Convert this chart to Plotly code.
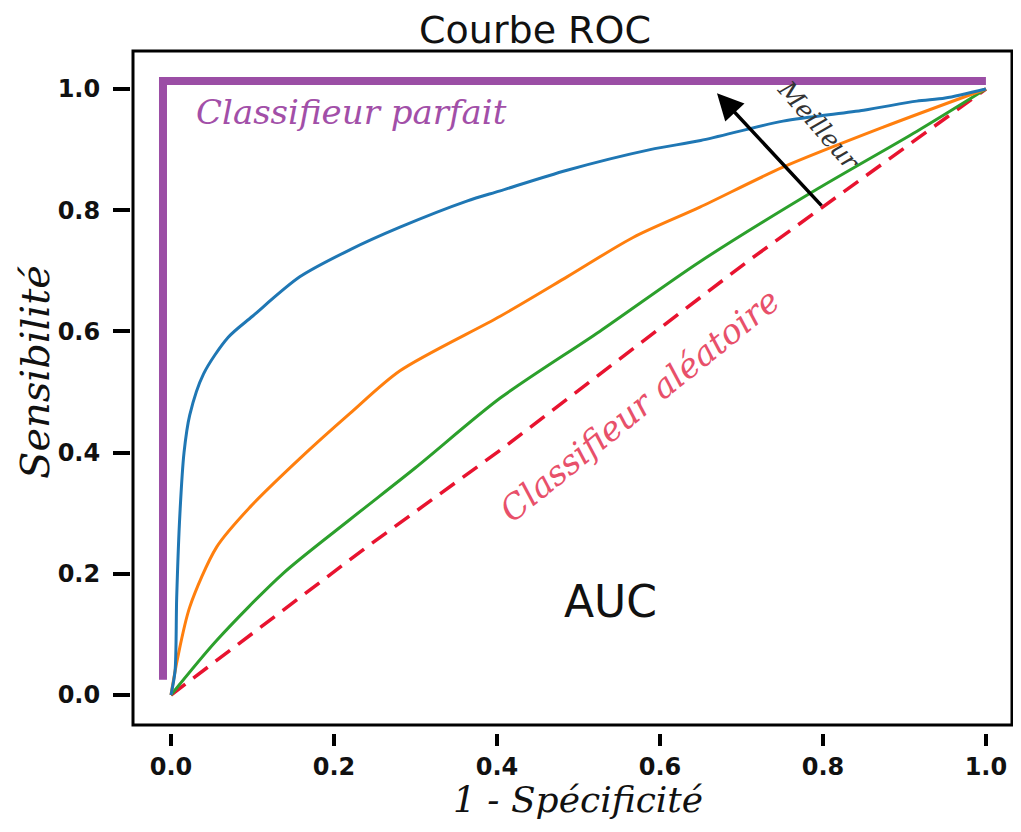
import plotly.graph_objects as go

# taux de faux positifs / vrais positifs
fpr_a = [0, 0.005, 0.007, 0.011, 0.016, 0.023, 0.04, 0.07, 0.1, 0.158, 0.22, 0.281, 0.363, 0.404, 0.486, 0.588, 0.65, 0.751, 0.85, 0.915, 0.95, 1.0]
tpr_a = [0, 0.04, 0.16, 0.30, 0.40, 0.462, 0.53, 0.59, 0.625, 0.69, 0.735, 0.772, 0.815, 0.832, 0.866, 0.90, 0.915, 0.947, 0.965, 0.98, 0.985, 1.0]

fpr_b = [0, 0.008, 0.023, 0.056, 0.097, 0.158, 0.22, 0.281, 0.404, 0.486, 0.567, 0.649, 0.751, 0.874, 1.0]
tpr_b = [0, 0.06, 0.145, 0.244, 0.31, 0.39, 0.465, 0.535, 0.625, 0.69, 0.755, 0.805, 0.871, 0.937, 1.0]

fpr_c = [0, 0.056, 0.137, 0.22, 0.3, 0.404, 0.526, 0.649, 0.793, 0.915, 1.0]
tpr_c = [0, 0.09, 0.20, 0.29, 0.375, 0.49, 0.60, 0.715, 0.835, 0.93, 1.0]

fpr_rand = [0, 0.24, 0.404, 0.71, 1.0]
tpr_rand = [0, 0.244, 0.404, 0.718, 1.0]

fpr_perfect = [-0.0098, -0.0098, 1.0]
tpr_perfect = [0.025, 1.013, 1.013]

ticks = [0.0, 0.2, 0.4, 0.6, 0.8, 1.0]
tick_text = ["0.0", "0.2", "0.4", "0.6", "0.8", "1.0"]

hand = "DejaVu Serif"
plain = "DejaVu Sans"

fig = go.Figure()
fig.add_trace(go.Scatter(x=fpr_perfect, y=tpr_perfect, mode="lines",
                         line=dict(color="#9b4ea5", width=8)))
fig.add_trace(go.Scatter(x=fpr_rand, y=tpr_rand, mode="lines",
                         line=dict(color="#e8132f", width=3.5, dash="18px,10px")))
fig.add_trace(go.Scatter(x=fpr_c, y=tpr_c, mode="lines", line_shape="spline",
                         line=dict(color="#2ca02c", width=3, smoothing=0.8)))
fig.add_trace(go.Scatter(x=fpr_b, y=tpr_b, mode="lines", line_shape="spline",
                         line=dict(color="#ff7f0e", width=3, smoothing=0.8)))
fig.add_trace(go.Scatter(x=fpr_a, y=tpr_a, mode="lines", line_shape="spline",
                         line=dict(color="#1f77b4", width=3, smoothing=0.8)))

# la page ajoute 8px de marge autour de la figure
W, H = 1005, 816
ml, mr, mt, mb = 122, 1, 43, 91
pw, ph = W - ml - mr, H - mt - mb
x0 = 3 / pw
y0 = 8 / ph

# cadre
fig.add_shape(type="rect", xref="paper", yref="paper", x0=x0, x1=1, y0=y0, y1=1,
              line=dict(color="black", width=3))

fig.add_annotation(x=0.67, y=0.993, ax=0.8, ay=0.805, xref="x", yref="y",
                   axref="x", ayref="y", showarrow=True, arrowhead=2,
                   arrowsize=1.5, arrowwidth=3.5, arrowcolor="black", text="")
fig.add_annotation(x=0.795, y=0.94, text="Meilleur", showarrow=False, textangle=49,
                   font=dict(family=hand, size=25, color="#333333", style="italic"))
fig.add_annotation(x=0.222, y=0.962, text="Classifieur parfait", showarrow=False,
                   font=dict(family=hand, size=34, color="#a24fa8", style="italic"))
fig.add_annotation(x=0.575, y=0.478, text="Classifieur aléatoire", showarrow=False,
                   textangle=-39,
                   font=dict(family=hand, size=34, color="#e8506a", style="italic"))
fig.add_annotation(x=0.539, y=0.155, text="AUC", showarrow=False,
                   font=dict(family=plain, size=44, color="#111111"))

# titres des axes
fig.add_annotation(xref="paper", yref="paper", x=(578 - 8 - ml) / pw, y=-(792 - (H - mb)) / ph,
                   text="1 - Spécificité", showarrow=False, yanchor="middle",
                   font=dict(family=hand, size=36, color="#111111", style="italic"))
fig.add_annotation(xref="paper", yref="paper", x=(27 - ml) / pw, y=(H - mb - 364) / ph,
                   text="Sensibilité", showarrow=False, textangle=-90,
                   xanchor="center", yanchor="middle",
                   font=dict(family=hand, size=40, color="#111111", style="italic"))

fig.update_layout(
    width=W, height=H,
    margin=dict(l=ml, r=mr, t=mt, b=mb),
    plot_bgcolor="white", paper_bgcolor="white",
    showlegend=False,
    title=dict(text="Courbe ROC", x=527 / W, y=1 - 22 / H, xanchor="center", yanchor="middle",
               font=dict(family=plain, size=38, color="#111111")),
    xaxis=dict(range=[-0.0466, 1.032], domain=[x0, 1], anchor="free", position=0,
               automargin=False,
               tickvals=ticks, ticktext=tick_text, ticks="outside", ticklen=12,
               tickwidth=4, tickcolor="black", showline=False, showgrid=False,
               zeroline=False, ticklabelstandoff=0,
               tickfont=dict(family=plain, size=24, color="#111111", weight="bold")),
    yaxis=dict(range=[-0.0495, 1.0627], domain=[y0, 1], anchor="free", position=0,
               automargin=False,
               tickvals=ticks, ticktext=tick_text, ticks="outside", ticklen=17,
               tickwidth=4, tickcolor="black", showline=False, showgrid=False,
               zeroline=False, ticklabelstandoff=8,
               tickfont=dict(family=plain, size=24, color="#111111", weight="bold")),
)

fig.write_html("out.html")
